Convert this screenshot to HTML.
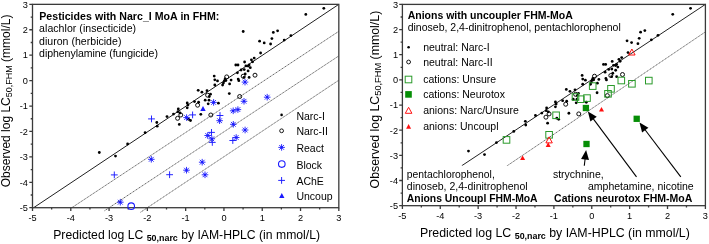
<!DOCTYPE html>
<html><head><meta charset="utf-8"><style>
html,body{margin:0;padding:0;background:#fff;width:709px;height:244px;overflow:hidden}
svg{display:block}
svg{will-change:transform}
text{font-family:"Liberation Sans",sans-serif}
</style></head><body>
<svg width="709" height="244" viewBox="0 0 709 244">
<rect width="709" height="244" fill="#fff"/>
<line x1="33.6" y1="207.71" x2="338.82" y2="4.35" stroke="#222" stroke-width="1"/>
<line x1="71.8" y1="207.71" x2="338.82" y2="31.3" stroke="#555" stroke-width="0.9" stroke-dasharray="1.2 0.6"/>
<line x1="104.49" y1="210.76" x2="338.82" y2="55.9" stroke="#555" stroke-width="0.9" stroke-dasharray="1.2 0.6"/>
<line x1="140.48" y1="212.29" x2="338.82" y2="80.2" stroke="#555" stroke-width="0.9" stroke-dasharray="1.2 0.6"/>
<line x1="461.8" y1="165.7" x2="705.4" y2="4.4" stroke="#222" stroke-width="1"/>
<line x1="506.8" y1="166" x2="705.4" y2="31.9" stroke="#555" stroke-width="0.9" stroke-dasharray="1.2 0.6"/>
<circle cx="99.3" cy="152.5" r="1.4" fill="#000"/>
<circle cx="115.5" cy="156.1" r="1.4" fill="#000"/>
<circle cx="127.6" cy="144" r="1.4" fill="#000"/>
<circle cx="145.1" cy="132.7" r="1.4" fill="#000"/>
<circle cx="156.8" cy="122.5" r="1.4" fill="#000"/>
<circle cx="157.2" cy="126.2" r="1.4" fill="#000"/>
<circle cx="167" cy="116.6" r="1.4" fill="#000"/>
<circle cx="173.5" cy="114.1" r="1.4" fill="#000"/>
<circle cx="177.9" cy="111.7" r="1.4" fill="#000"/>
<circle cx="178.3" cy="108.9" r="1.4" fill="#000"/>
<circle cx="180" cy="112.9" r="1.4" fill="#000"/>
<circle cx="179.3" cy="124.4" r="1.4" fill="#000"/>
<circle cx="188.6" cy="119.3" r="1.4" fill="#000"/>
<circle cx="190.5" cy="120.5" r="1.4" fill="#000"/>
<circle cx="187.2" cy="102.9" r="1.4" fill="#000"/>
<circle cx="187.9" cy="105" r="1.4" fill="#000"/>
<circle cx="187.2" cy="107.8" r="1.4" fill="#000"/>
<circle cx="194.5" cy="101.6" r="1.4" fill="#000"/>
<circle cx="198.6" cy="102.2" r="1.4" fill="#000"/>
<circle cx="200.8" cy="114.3" r="1.4" fill="#000"/>
<circle cx="208.2" cy="103.8" r="1.4" fill="#000"/>
<circle cx="198.2" cy="90.3" r="1.4" fill="#000"/>
<circle cx="201.9" cy="92.2" r="1.4" fill="#000"/>
<circle cx="207" cy="90.7" r="1.4" fill="#000"/>
<circle cx="210.5" cy="94.2" r="1.4" fill="#000"/>
<circle cx="209.3" cy="96.5" r="1.4" fill="#000"/>
<circle cx="205.2" cy="100.2" r="1.4" fill="#000"/>
<circle cx="209" cy="100.2" r="1.4" fill="#000"/>
<circle cx="218.4" cy="103.2" r="1.4" fill="#000"/>
<circle cx="214.2" cy="76.1" r="1.4" fill="#000"/>
<circle cx="214.8" cy="79.8" r="1.4" fill="#000"/>
<circle cx="217.5" cy="80.9" r="1.4" fill="#000"/>
<circle cx="214.8" cy="85" r="1.4" fill="#000"/>
<circle cx="225.1" cy="79" r="1.4" fill="#000"/>
<circle cx="224.3" cy="81" r="1.4" fill="#000"/>
<circle cx="225.9" cy="80.6" r="1.4" fill="#000"/>
<circle cx="223.4" cy="83.1" r="1.4" fill="#000"/>
<circle cx="222.6" cy="85" r="1.4" fill="#000"/>
<circle cx="231.1" cy="80.1" r="1.4" fill="#000"/>
<circle cx="229.6" cy="83.9" r="1.4" fill="#000"/>
<circle cx="229.3" cy="93.6" r="1.4" fill="#000"/>
<circle cx="235.8" cy="65" r="1.4" fill="#000"/>
<circle cx="238" cy="65" r="1.4" fill="#000"/>
<circle cx="244.6" cy="62" r="1.4" fill="#000"/>
<circle cx="245.9" cy="65.9" r="1.4" fill="#000"/>
<circle cx="248.1" cy="66.1" r="1.4" fill="#000"/>
<circle cx="249.1" cy="65" r="1.4" fill="#000"/>
<circle cx="250.3" cy="67.7" r="1.4" fill="#000"/>
<circle cx="251.4" cy="59.8" r="1.4" fill="#000"/>
<circle cx="252.6" cy="61.8" r="1.4" fill="#000"/>
<circle cx="254.2" cy="58.1" r="1.4" fill="#000"/>
<circle cx="241.1" cy="70" r="1.4" fill="#000"/>
<circle cx="244.2" cy="69.6" r="1.4" fill="#000"/>
<circle cx="248.1" cy="70.9" r="1.4" fill="#000"/>
<circle cx="237.4" cy="72.8" r="1.4" fill="#000"/>
<circle cx="245.2" cy="73.9" r="1.4" fill="#000"/>
<circle cx="244" cy="77.4" r="1.4" fill="#000"/>
<circle cx="249.1" cy="77.4" r="1.4" fill="#000"/>
<circle cx="238.2" cy="79.1" r="1.4" fill="#000"/>
<circle cx="238.8" cy="80.7" r="1.4" fill="#000"/>
<circle cx="260.6" cy="53" r="1.4" fill="#000"/>
<circle cx="259.6" cy="41.2" r="1.4" fill="#000"/>
<circle cx="264.2" cy="42.9" r="1.4" fill="#000"/>
<circle cx="270.6" cy="44" r="1.4" fill="#000"/>
<circle cx="271.9" cy="38.6" r="1.4" fill="#000"/>
<circle cx="273.3" cy="32.4" r="1.4" fill="#000"/>
<circle cx="277.6" cy="30.8" r="1.4" fill="#000"/>
<circle cx="284.2" cy="40.1" r="1.4" fill="#000"/>
<circle cx="290.9" cy="35.6" r="1.4" fill="#000"/>
<circle cx="305.8" cy="14.4" r="1.4" fill="#000"/>
<circle cx="323.8" cy="8.3" r="1.4" fill="#000"/>
<circle cx="243.2" cy="31.5" r="1.4" fill="#000"/>
<circle cx="180.8" cy="115" r="2.0" fill="none" stroke="#000" stroke-width="0.95"/>
<circle cx="177.6" cy="118.3" r="2.0" fill="none" stroke="#000" stroke-width="0.95"/>
<circle cx="197.6" cy="105.2" r="2.0" fill="none" stroke="#000" stroke-width="0.95"/>
<circle cx="207.6" cy="95.2" r="2.0" fill="none" stroke="#000" stroke-width="0.95"/>
<circle cx="226.7" cy="76.9" r="2.0" fill="none" stroke="#000" stroke-width="0.95"/>
<circle cx="243.2" cy="76.2" r="2.0" fill="none" stroke="#000" stroke-width="0.95"/>
<circle cx="255" cy="75.2" r="2.0" fill="none" stroke="#000" stroke-width="0.95"/>
<circle cx="239.7" cy="96.5" r="2.0" fill="none" stroke="#000" stroke-width="0.95"/>
<circle cx="210.8" cy="115" r="2.0" fill="none" stroke="#000" stroke-width="0.95"/>
<path d="M241.7 82.1H248.3M245 78.8V85.4M242.62 79.72L247.38 84.48M242.62 84.48L247.38 79.72" stroke="#1a1aff" stroke-width="0.9" fill="none"/><circle cx="245" cy="82.1" r="1.1" fill="#1a1aff"/>
<path d="M263.9 97.2H270.5M267.2 93.9V100.5M264.82 94.82L269.58 99.58M264.82 99.58L269.58 94.82" stroke="#1a1aff" stroke-width="0.9" fill="none"/><circle cx="267.2" cy="97.2" r="1.1" fill="#1a1aff"/>
<path d="M240.7 101.3H247.3M244 98V104.6M241.62 98.92L246.38 103.68M241.62 103.68L246.38 98.92" stroke="#1a1aff" stroke-width="0.9" fill="none"/><circle cx="244" cy="101.3" r="1.1" fill="#1a1aff"/>
<path d="M210.3 102.4H216.9M213.6 99.1V105.7M211.22 100.02L215.98 104.78M211.22 104.78L215.98 100.02" stroke="#1a1aff" stroke-width="0.9" fill="none"/><circle cx="213.6" cy="102.4" r="1.1" fill="#1a1aff"/>
<path d="M229.9 110.8H236.5M233.2 107.5V114.1M230.82 108.42L235.58 113.18M230.82 113.18L235.58 108.42" stroke="#1a1aff" stroke-width="0.9" fill="none"/><circle cx="233.2" cy="110.8" r="1.1" fill="#1a1aff"/>
<path d="M234.6 109.6H241.2M237.9 106.3V112.9M235.52 107.22L240.28 111.98M235.52 111.98L240.28 107.22" stroke="#1a1aff" stroke-width="0.9" fill="none"/><circle cx="237.9" cy="109.6" r="1.1" fill="#1a1aff"/>
<path d="M183.3 117.6H189.9M186.6 114.3V120.9M184.22 115.22L188.98 119.98M184.22 119.98L188.98 115.22" stroke="#1a1aff" stroke-width="0.9" fill="none"/><circle cx="186.6" cy="117.6" r="1.1" fill="#1a1aff"/>
<path d="M216.3 120.7H222.9M219.6 117.4V124M217.22 118.32L221.98 123.08M217.22 123.08L221.98 118.32" stroke="#1a1aff" stroke-width="0.9" fill="none"/><circle cx="219.6" cy="120.7" r="1.1" fill="#1a1aff"/>
<path d="M230 124.3H236.6M233.3 121V127.6M230.92 121.92L235.68 126.68M230.92 126.68L235.68 121.92" stroke="#1a1aff" stroke-width="0.9" fill="none"/><circle cx="233.3" cy="124.3" r="1.1" fill="#1a1aff"/>
<path d="M241.8 130H248.4M245.1 126.7V133.3M242.72 127.62L247.48 132.38M242.72 132.38L247.48 127.62" stroke="#1a1aff" stroke-width="0.9" fill="none"/><circle cx="245.1" cy="130" r="1.1" fill="#1a1aff"/>
<path d="M204.4 135.5H211M207.7 132.2V138.8M205.32 133.12L210.08 137.88M205.32 137.88L210.08 133.12" stroke="#1a1aff" stroke-width="0.9" fill="none"/><circle cx="207.7" cy="135.5" r="1.1" fill="#1a1aff"/>
<path d="M208.5 138.8H215.1M211.8 135.5V142.1M209.42 136.42L214.18 141.18M209.42 141.18L214.18 136.42" stroke="#1a1aff" stroke-width="0.9" fill="none"/><circle cx="211.8" cy="138.8" r="1.1" fill="#1a1aff"/>
<path d="M232.9 137.5H239.5M236.2 134.2V140.8M233.82 135.12L238.58 139.88M233.82 139.88L238.58 135.12" stroke="#1a1aff" stroke-width="0.9" fill="none"/><circle cx="236.2" cy="137.5" r="1.1" fill="#1a1aff"/>
<path d="M148 159.3H154.6M151.3 156V162.6M148.92 156.92L153.68 161.68M148.92 161.68L153.68 156.92" stroke="#1a1aff" stroke-width="0.9" fill="none"/><circle cx="151.3" cy="159.3" r="1.1" fill="#1a1aff"/>
<path d="M183.2 170.2H189.8M186.5 166.9V173.5M184.12 167.82L188.88 172.58M184.12 172.58L188.88 167.82" stroke="#1a1aff" stroke-width="0.9" fill="none"/><circle cx="186.5" cy="170.2" r="1.1" fill="#1a1aff"/>
<path d="M198.9 162.2H205.5M202.2 158.9V165.5M199.82 159.82L204.58 164.58M199.82 164.58L204.58 159.82" stroke="#1a1aff" stroke-width="0.9" fill="none"/><circle cx="202.2" cy="162.2" r="1.1" fill="#1a1aff"/>
<path d="M201.7 174.8H208.3M205 171.5V178.1M202.62 172.42L207.38 177.18M202.62 177.18L207.38 172.42" stroke="#1a1aff" stroke-width="0.9" fill="none"/><circle cx="205" cy="174.8" r="1.1" fill="#1a1aff"/>
<path d="M117 202.2H123.6M120.3 198.9V205.5M117.92 199.82L122.68 204.58M117.92 204.58L122.68 199.82" stroke="#1a1aff" stroke-width="0.9" fill="none"/><circle cx="120.3" cy="202.2" r="1.1" fill="#1a1aff"/>
<path d="M148.1 118.9H154.9M151.5 115.5V122.3" stroke="#1a1aff" stroke-width="0.95" fill="none"/>
<path d="M189.2 114.9H196M192.6 111.5V118.3" stroke="#1a1aff" stroke-width="0.95" fill="none"/>
<path d="M216.6 115.5H223.4M220 112.1V118.9" stroke="#1a1aff" stroke-width="0.95" fill="none"/>
<path d="M208.1 132.4H214.9M211.5 129V135.8" stroke="#1a1aff" stroke-width="0.95" fill="none"/>
<path d="M208.9 142.4H215.7M212.3 139V145.8" stroke="#1a1aff" stroke-width="0.95" fill="none"/>
<path d="M229.4 140.5H236.2M232.8 137.1V143.9" stroke="#1a1aff" stroke-width="0.95" fill="none"/>
<path d="M110.9 174.9H117.7M114.3 171.5V178.3" stroke="#1a1aff" stroke-width="0.95" fill="none"/>
<path d="M166.2 174.7H173M169.6 171.3V178.1" stroke="#1a1aff" stroke-width="0.95" fill="none"/>
<polygon points="203,106 205.7,111 200.3,111" fill="#1a1aff"/>
<circle cx="281.6" cy="114.9" r="1.3" fill="#000"/>
<circle cx="281.6" cy="130.8" r="1.9" fill="none" stroke="#000" stroke-width="0.9"/>
<path d="M278.3 147.4H284.9M281.6 144.1V150.7M279.22 145.02L283.98 149.78M279.22 149.78L283.98 145.02" stroke="#1a1aff" stroke-width="0.9" fill="none"/><circle cx="281.6" cy="147.4" r="1.1" fill="#1a1aff"/>
<circle cx="281.8" cy="164.1" r="3.3" fill="none" stroke="#1a1aff" stroke-width="1.1"/>
<path d="M278.2 180.4H285M281.6 177V183.8" stroke="#1a1aff" stroke-width="0.95" fill="none"/>
<polygon points="281.8,192.9 284.45,197.9 279.15,197.9" fill="#1a1aff"/>
<circle cx="468.48" cy="151.03" r="1.4" fill="#000"/>
<circle cx="484.5" cy="154.6" r="1.4" fill="#000"/>
<circle cx="496.47" cy="142.62" r="1.4" fill="#000"/>
<circle cx="513.78" cy="131.44" r="1.4" fill="#000"/>
<circle cx="525.35" cy="121.34" r="1.4" fill="#000"/>
<circle cx="525.75" cy="125" r="1.4" fill="#000"/>
<circle cx="535.44" cy="115.5" r="1.4" fill="#000"/>
<circle cx="541.87" cy="113.03" r="1.4" fill="#000"/>
<circle cx="546.22" cy="110.65" r="1.4" fill="#000"/>
<circle cx="546.62" cy="107.88" r="1.4" fill="#000"/>
<circle cx="548.3" cy="111.84" r="1.4" fill="#000"/>
<circle cx="547.61" cy="123.22" r="1.4" fill="#000"/>
<circle cx="556.81" cy="118.17" r="1.4" fill="#000"/>
<circle cx="558.69" cy="119.36" r="1.4" fill="#000"/>
<circle cx="555.42" cy="101.94" r="1.4" fill="#000"/>
<circle cx="556.12" cy="104.02" r="1.4" fill="#000"/>
<circle cx="555.42" cy="106.79" r="1.4" fill="#000"/>
<circle cx="562.64" cy="100.66" r="1.4" fill="#000"/>
<circle cx="566.7" cy="101.25" r="1.4" fill="#000"/>
<circle cx="568.88" cy="113.23" r="1.4" fill="#000"/>
<circle cx="576.2" cy="102.83" r="1.4" fill="#000"/>
<circle cx="566.3" cy="89.47" r="1.4" fill="#000"/>
<circle cx="569.96" cy="91.35" r="1.4" fill="#000"/>
<circle cx="575.01" cy="89.87" r="1.4" fill="#000"/>
<circle cx="578.47" cy="93.33" r="1.4" fill="#000"/>
<circle cx="577.28" cy="95.61" r="1.4" fill="#000"/>
<circle cx="573.23" cy="99.27" r="1.4" fill="#000"/>
<circle cx="576.99" cy="99.27" r="1.4" fill="#000"/>
<circle cx="586.29" cy="102.24" r="1.4" fill="#000"/>
<circle cx="582.13" cy="75.42" r="1.4" fill="#000"/>
<circle cx="582.72" cy="79.08" r="1.4" fill="#000"/>
<circle cx="585.39" cy="80.17" r="1.4" fill="#000"/>
<circle cx="582.72" cy="84.23" r="1.4" fill="#000"/>
<circle cx="592.91" cy="78.29" r="1.4" fill="#000"/>
<circle cx="592.12" cy="80.27" r="1.4" fill="#000"/>
<circle cx="593.7" cy="79.87" r="1.4" fill="#000"/>
<circle cx="591.23" cy="82.34" r="1.4" fill="#000"/>
<circle cx="590.44" cy="84.23" r="1.4" fill="#000"/>
<circle cx="598.85" cy="79.38" r="1.4" fill="#000"/>
<circle cx="597.36" cy="83.14" r="1.4" fill="#000"/>
<circle cx="597.07" cy="92.74" r="1.4" fill="#000"/>
<circle cx="603.5" cy="64.43" r="1.4" fill="#000"/>
<circle cx="605.67" cy="64.43" r="1.4" fill="#000"/>
<circle cx="612.2" cy="61.46" r="1.4" fill="#000"/>
<circle cx="613.49" cy="65.32" r="1.4" fill="#000"/>
<circle cx="615.66" cy="65.52" r="1.4" fill="#000"/>
<circle cx="616.65" cy="64.43" r="1.4" fill="#000"/>
<circle cx="617.84" cy="67.1" r="1.4" fill="#000"/>
<circle cx="618.93" cy="59.28" r="1.4" fill="#000"/>
<circle cx="620.11" cy="61.26" r="1.4" fill="#000"/>
<circle cx="621.7" cy="57.6" r="1.4" fill="#000"/>
<circle cx="608.74" cy="69.38" r="1.4" fill="#000"/>
<circle cx="611.81" cy="68.98" r="1.4" fill="#000"/>
<circle cx="615.66" cy="70.27" r="1.4" fill="#000"/>
<circle cx="605.08" cy="72.15" r="1.4" fill="#000"/>
<circle cx="612.79" cy="73.24" r="1.4" fill="#000"/>
<circle cx="611.61" cy="76.7" r="1.4" fill="#000"/>
<circle cx="616.65" cy="76.7" r="1.4" fill="#000"/>
<circle cx="605.87" cy="78.39" r="1.4" fill="#000"/>
<circle cx="606.46" cy="79.97" r="1.4" fill="#000"/>
<circle cx="628.03" cy="52.55" r="1.4" fill="#000"/>
<circle cx="627.04" cy="40.87" r="1.4" fill="#000"/>
<circle cx="631.59" cy="42.56" r="1.4" fill="#000"/>
<circle cx="637.92" cy="43.64" r="1.4" fill="#000"/>
<circle cx="639.21" cy="38.3" r="1.4" fill="#000"/>
<circle cx="640.59" cy="32.16" r="1.4" fill="#000"/>
<circle cx="644.84" cy="30.58" r="1.4" fill="#000"/>
<circle cx="651.37" cy="39.78" r="1.4" fill="#000"/>
<circle cx="658" cy="35.33" r="1.4" fill="#000"/>
<circle cx="672.74" cy="14.35" r="1.4" fill="#000"/>
<circle cx="690.54" cy="8.31" r="1.4" fill="#000"/>
<circle cx="549.09" cy="113.92" r="2.0" fill="none" stroke="#000" stroke-width="0.95"/>
<circle cx="545.93" cy="117.18" r="2.0" fill="none" stroke="#000" stroke-width="0.95"/>
<circle cx="565.71" cy="104.22" r="2.0" fill="none" stroke="#000" stroke-width="0.95"/>
<circle cx="575.6" cy="94.32" r="2.0" fill="none" stroke="#000" stroke-width="0.95"/>
<circle cx="594.5" cy="76.21" r="2.0" fill="none" stroke="#000" stroke-width="0.95"/>
<circle cx="610.82" cy="75.52" r="2.0" fill="none" stroke="#000" stroke-width="0.95"/>
<circle cx="622.49" cy="74.53" r="2.0" fill="none" stroke="#000" stroke-width="0.95"/>
<circle cx="607.35" cy="95.61" r="2.0" fill="none" stroke="#000" stroke-width="0.95"/>
<circle cx="578.77" cy="113.92" r="2.0" fill="none" stroke="#000" stroke-width="0.95"/>
<rect x="503.2" y="136.6" width="6.6" height="6.6" fill="none" stroke="#2a9a2a" stroke-width="1"/>
<rect x="545.8" y="131.5" width="6.6" height="6.6" fill="none" stroke="#2a9a2a" stroke-width="1"/>
<rect x="552.8" y="112" width="6.6" height="6.6" fill="none" stroke="#2a9a2a" stroke-width="1"/>
<rect x="572.2" y="93.7" width="6.6" height="6.6" fill="none" stroke="#2a9a2a" stroke-width="1"/>
<rect x="577.5" y="95.9" width="6.6" height="6.6" fill="none" stroke="#2a9a2a" stroke-width="1"/>
<rect x="583.7" y="94.8" width="6.6" height="6.6" fill="none" stroke="#2a9a2a" stroke-width="1"/>
<rect x="589.4" y="82.8" width="6.6" height="6.6" fill="none" stroke="#2a9a2a" stroke-width="1"/>
<rect x="604.7" y="90.5" width="6.6" height="6.6" fill="none" stroke="#2a9a2a" stroke-width="1"/>
<rect x="607.7" y="85.5" width="6.6" height="6.6" fill="none" stroke="#2a9a2a" stroke-width="1"/>
<rect x="618" y="77.2" width="6.6" height="6.6" fill="none" stroke="#2a9a2a" stroke-width="1"/>
<rect x="628.6" y="80.5" width="6.6" height="6.6" fill="none" stroke="#2a9a2a" stroke-width="1"/>
<rect x="645.5" y="77.3" width="6.6" height="6.6" fill="none" stroke="#2a9a2a" stroke-width="1"/>
<rect x="582.75" y="104.85" width="6.3" height="6.3" fill="#068e06"/>
<rect x="633.55" y="115.65" width="6.3" height="6.3" fill="#068e06"/>
<rect x="583.35" y="140.85" width="6.3" height="6.3" fill="#068e06"/>
<polygon points="631.9,49 635.1,55 628.7,55" fill="none" stroke="#ff1010" stroke-width="1"/>
<polygon points="549.1,136.9 552.3,142.9 545.9,142.9" fill="none" stroke="#ff1010" stroke-width="1"/>
<polygon points="601.5,107 604,111.6 599,111.6" fill="#ff1010"/>
<polygon points="548.2,142.3 550.7,146.9 545.7,146.9" fill="#ff1010"/>
<polygon points="522.6,155.5 525.1,160.1 520.1,160.1" fill="#ff1010"/>
<circle cx="408.6" cy="47.2" r="1.3" fill="#000"/>
<circle cx="408.6" cy="62" r="1.9" fill="none" stroke="#000" stroke-width="0.9"/>
<rect x="405.2" y="76.2" width="6.6" height="6.6" fill="none" stroke="#2a9a2a" stroke-width="1"/>
<rect x="405.2" y="91.1" width="6.6" height="6.6" fill="#068e06"/>
<polygon points="408.6,107.3 411.9,113.3 405.3,113.3" fill="none" stroke="#ff1010" stroke-width="1"/>
<polygon points="408.6,124.1 411.1,128.7 406.1,128.7" fill="#ff1010"/>
<rect x="32.5" y="4.35" width="306.32" height="203.36" fill="none" stroke="#3a3a3a" stroke-width="1.3"/>
<path d="M32.5 207.71V210.91M32.5 207.71H29.3M51.64 207.71V209.51M32.5 195H30.7M70.79 207.71V210.91M32.5 182.29H29.3M89.94 207.71V209.51M32.5 169.58H30.7M109.08 207.71V210.91M32.5 156.87H29.3M128.22 207.71V209.51M32.5 144.16H30.7M147.37 207.71V210.91M32.5 131.45H29.3M166.51 207.71V209.51M32.5 118.74H30.7M185.66 207.71V210.91M32.5 106.03H29.3M204.81 207.71V209.51M32.5 93.32H30.7M223.95 207.71V210.91M32.5 80.61H29.3M243.09 207.71V209.51M32.5 67.9H30.7M262.24 207.71V210.91M32.5 55.19H29.3M281.38 207.71V209.51M32.5 42.48H30.7M300.53 207.71V210.91M32.5 29.77H29.3M319.68 207.71V209.51M32.5 17.06H30.7M338.82 207.71V210.91M32.5 4.35H29.3" fill="none" stroke="#3a3a3a" stroke-width="1.3"/>
<text x="32.5" y="220.81" text-anchor="middle" font-size="9.2" >-5</text>
<text x="27.8" y="211.01" text-anchor="end" font-size="9.2" >-5</text>
<text x="70.79" y="220.81" text-anchor="middle" font-size="9.2" >-4</text>
<text x="27.8" y="185.59" text-anchor="end" font-size="9.2" >-4</text>
<text x="109.08" y="220.81" text-anchor="middle" font-size="9.2" >-3</text>
<text x="27.8" y="160.17" text-anchor="end" font-size="9.2" >-3</text>
<text x="147.37" y="220.81" text-anchor="middle" font-size="9.2" >-2</text>
<text x="27.8" y="134.75" text-anchor="end" font-size="9.2" >-2</text>
<text x="185.66" y="220.81" text-anchor="middle" font-size="9.2" >-1</text>
<text x="27.8" y="109.33" text-anchor="end" font-size="9.2" >-1</text>
<text x="223.95" y="220.81" text-anchor="middle" font-size="9.2" >0</text>
<text x="27.8" y="83.91" text-anchor="end" font-size="9.2" >0</text>
<text x="262.24" y="220.81" text-anchor="middle" font-size="9.2" >1</text>
<text x="27.8" y="58.49" text-anchor="end" font-size="9.2" >1</text>
<text x="300.53" y="220.81" text-anchor="middle" font-size="9.2" >2</text>
<text x="27.8" y="33.07" text-anchor="end" font-size="9.2" >2</text>
<text x="338.82" y="220.81" text-anchor="middle" font-size="9.2" >3</text>
<text x="27.8" y="7.65" text-anchor="end" font-size="9.2" >3</text>
<rect x="402.4" y="4.4" width="303" height="201.28" fill="none" stroke="#3a3a3a" stroke-width="1.3"/>
<path d="M402.4 205.68V208.88M402.4 205.68H399.2M421.34 205.68V207.48M402.4 193.1H400.6M440.27 205.68V208.88M402.4 180.52H399.2M459.21 205.68V207.48M402.4 167.94H400.6M478.15 205.68V208.88M402.4 155.36H399.2M497.09 205.68V207.48M402.4 142.78H400.6M516.02 205.68V208.88M402.4 130.2H399.2M534.96 205.68V207.48M402.4 117.62H400.6M553.9 205.68V208.88M402.4 105.04H399.2M572.84 205.68V207.48M402.4 92.46H400.6M591.77 205.68V208.88M402.4 79.88H399.2M610.71 205.68V207.48M402.4 67.3H400.6M629.65 205.68V208.88M402.4 54.72H399.2M648.59 205.68V207.48M402.4 42.14H400.6M667.52 205.68V208.88M402.4 29.56H399.2M686.46 205.68V207.48M402.4 16.98H400.6M705.4 205.68V208.88M402.4 4.4H399.2" fill="none" stroke="#3a3a3a" stroke-width="1.3"/>
<text x="402.4" y="218.78" text-anchor="middle" font-size="9.2" >-5</text>
<text x="398" y="208.98" text-anchor="end" font-size="9.2" >-5</text>
<text x="440.27" y="218.78" text-anchor="middle" font-size="9.2" >-4</text>
<text x="398" y="183.82" text-anchor="end" font-size="9.2" >-4</text>
<text x="478.15" y="218.78" text-anchor="middle" font-size="9.2" >-3</text>
<text x="398" y="158.66" text-anchor="end" font-size="9.2" >-3</text>
<text x="516.02" y="218.78" text-anchor="middle" font-size="9.2" >-2</text>
<text x="398" y="133.5" text-anchor="end" font-size="9.2" >-2</text>
<text x="553.9" y="218.78" text-anchor="middle" font-size="9.2" >-1</text>
<text x="398" y="108.34" text-anchor="end" font-size="9.2" >-1</text>
<text x="591.77" y="218.78" text-anchor="middle" font-size="9.2" >0</text>
<text x="398" y="83.18" text-anchor="end" font-size="9.2" >0</text>
<text x="629.65" y="218.78" text-anchor="middle" font-size="9.2" >1</text>
<text x="398" y="58.02" text-anchor="end" font-size="9.2" >1</text>
<text x="667.52" y="218.78" text-anchor="middle" font-size="9.2" >2</text>
<text x="398" y="32.86" text-anchor="end" font-size="9.2" >2</text>
<text x="705.4" y="218.78" text-anchor="middle" font-size="9.2" >3</text>
<text x="398" y="7.7" text-anchor="end" font-size="9.2" >3</text>
<circle cx="131.2" cy="206.2" r="3.3" fill="none" stroke="#1a1aff" stroke-width="1.1"/>
<line x1="636.5" y1="176.8" x2="592.97" y2="118.32" stroke="#000" stroke-width="1.1"/>
<polygon points="587.9,111.5 596.78,116.73 590.36,121.51" fill="#000"/>
<line x1="680.8" y1="176.8" x2="644.65" y2="129.27" stroke="#000" stroke-width="1.1"/>
<polygon points="639.5,122.5 648.43,127.64 642.07,132.48" fill="#000"/>
<line x1="584.3" y1="165.8" x2="585.13" y2="158.54" stroke="#000" stroke-width="1.1"/>
<polygon points="586.1,150.1 588.99,159.99 581.04,159.08" fill="#000"/>
<text x="39.2" y="19.5" font-size="10.6" font-weight="bold"  textLength="180.2" lengthAdjust="spacing">Pesticides with Narc_I MoA in FHM:</text>
<text x="39.1" y="32.3" font-size="10.55"  textLength="97.0" lengthAdjust="spacing">alachlor (insecticide)</text>
<text x="39.1" y="44.9" font-size="10.55"  textLength="82.3" lengthAdjust="spacing">diuron (herbicide)</text>
<text x="39.1" y="57.4" font-size="10.55"  textLength="118.8" lengthAdjust="spacing">diphenylamine (fungicide)</text>
<text x="296.4" y="119.5" font-size="10.5" >Narc-I</text>
<text x="296.4" y="135.2" font-size="10.5" >Narc-II</text>
<text x="296.4" y="151.5" font-size="10.5" >React</text>
<text x="296.4" y="168.6" font-size="10.5" >Block</text>
<text x="296.4" y="184.6" font-size="10.5" >AChE</text>
<text x="296.4" y="200" font-size="10.5" >Uncoup</text>
<text x="407.7" y="18.9" font-size="10.5" font-weight="bold" >Anions with uncoupler FHM-MoA</text>
<text x="407.7" y="30.9" font-size="10.5" >dinoseb, 2,4-dinitrophenol, pentachlorophenol</text>
<text x="423.2" y="50.7" font-size="10.5" >neutral: Narc-I</text>
<text x="423.2" y="65.7" font-size="10.5" >neutral: Narc-II</text>
<text x="423.2" y="83.1" font-size="10.5" >cations: Unsure</text>
<text x="423.2" y="98" font-size="10.5" >cations: Neurotox</text>
<text x="423.2" y="113.9" font-size="10.5" >anions: Narc/Unsure</text>
<text x="423.2" y="129.5" font-size="10.5" >anions: Uncoupl</text>
<rect x="403" y="165.8" width="140" height="38.8" fill="#fff"/>
<text x="406.8" y="178.2" font-size="10.35" >pentachlorophenol,</text>
<text x="406.8" y="189.9" font-size="10.5" >dinoseb, 2,4-dinitrophenol</text>
<text x="406.8" y="201.8" font-size="10.38" font-weight="bold" >Anions Uncoupl FHM-MoA</text>
<text x="552.9" y="177.9" font-size="10.5" >strychnine,</text>
<text x="588" y="190.2" font-size="10.5" >amphetamine, nicotine</text>
<text x="554.1" y="202.3" font-size="10.5" font-weight="bold" >Cations neurotox FHM-MoA</text>
<text x="53.2" y="238.9" font-size="12.2" >Predicted log LC <tspan font-size="8.9" font-weight="bold" dy="2">50,narc</tspan><tspan dy="-2"> by IAM-HPLC (in mmol/L)</tspan></text>
<text x="420" y="237" font-size="12.35" >Predicted log LC <tspan font-size="8.9" font-weight="bold" dy="2">50,narc</tspan><tspan dy="-2"> by IAM-HPLC (in mmol/L)</tspan></text>
<text transform="translate(9.8,187.3) rotate(-90) scale(1.0,1.0)" font-size="12.0" >Observed log LC<tspan font-size="9.00" dy="1.8">50,FHM</tspan><tspan dy="-1.8"> (mmol/L)</tspan></text>
<text transform="translate(379,188.4) rotate(-90) scale(1.0,1.0)" font-size="12.35" >Observed log LC<tspan font-size="9.26" dy="1.8">50,FHM</tspan><tspan dy="-1.8"> (mmol/L)</tspan></text>
</svg>
</body></html>
